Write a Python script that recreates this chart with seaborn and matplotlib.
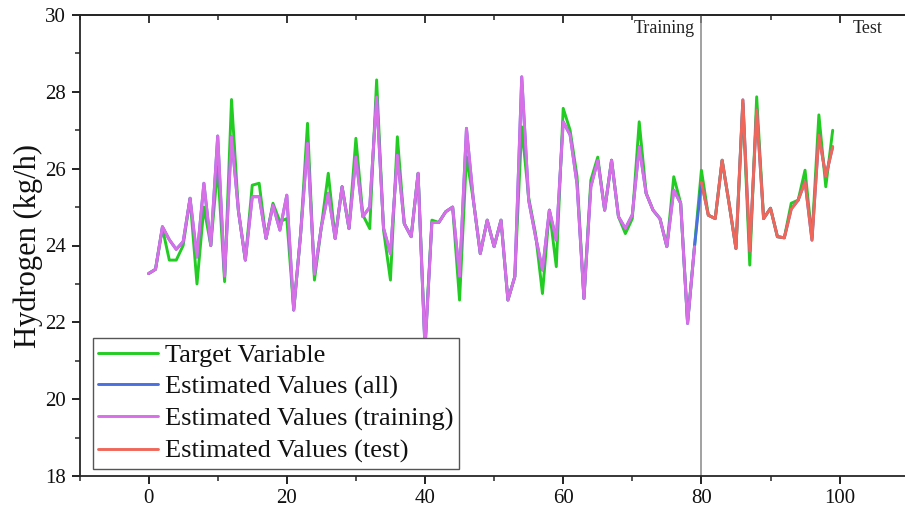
import numpy as np
import pandas as pd
import matplotlib
matplotlib.use("Agg")
import matplotlib.pyplot as plt
import seaborn as sns

# ---- data ----
target = [23.27, 23.38, 24.45, 23.62, 23.62, 24.0, 25.23, 23.0, 25.0, 24.0,
          26.05, 23.06, 27.8, 24.9, 23.62, 25.57, 25.62, 24.18, 25.1, 24.62,
          24.7, 22.32, 24.3, 27.18, 23.1, 24.49, 25.88, 24.18, 25.53, 24.44,
          26.79, 24.8, 24.44, 28.31, 24.4, 23.1, 26.83, 24.57, 24.23, 25.88,
          21.4, 24.66, 24.6, 24.88, 25.0, 22.58, 26.31, 25.18, 23.79, 24.66,
          23.97, 24.66, 22.58, 23.19, 27.09, 25.25, 24.3, 22.75, 24.92, 23.45,
          27.57, 27.0, 25.8, 22.62, 25.7, 26.3, 24.92, 26.22, 24.75, 24.31,
          24.7, 27.22, 25.36, 24.92, 24.7, 23.97, 25.79, 25.1, 22.0, 23.97,
          25.96, 24.79, 24.7, 26.22, 25.1, 23.92, 27.7, 23.49, 27.87, 24.7,
          24.97, 24.23, 24.2, 25.1, 25.18, 25.96, 24.2, 27.4, 25.53, 27.0]
est_train = [23.27, 23.38, 24.49, 24.15, 23.9, 24.1, 25.23, 23.7, 25.62, 24.0,
             26.85, 23.2, 26.83, 24.9, 23.62, 25.27, 25.27, 24.18, 25.05, 24.4,
             25.31, 22.32, 24.3, 26.66, 23.25, 24.49, 25.36, 24.18, 25.53, 24.44,
             26.31, 24.75, 25.0, 27.87, 24.45, 23.79, 26.35, 24.57, 24.23, 25.88,
             21.3, 24.6, 24.6, 24.88, 25.0, 23.2, 27.05, 25.18, 23.79, 24.66,
             23.97, 24.66, 22.58, 23.19, 28.39, 25.18, 24.23, 23.36, 24.92, 24.14,
             27.22, 26.88, 25.6, 22.62, 25.53, 26.22, 24.92, 26.22, 24.75, 24.44,
             24.8, 26.57, 25.36, 24.92, 24.7, 23.97, 25.44, 25.1, 21.97, 23.97]
est_test = [25.65, 24.79, 24.7, 26.22, 25.1, 23.92, 27.79, 23.85, 27.53, 24.7,
            24.97, 24.23, 24.2, 24.95, 25.18, 25.66, 24.14, 26.88, 25.8, 26.57]
est_all = est_train + est_test
split_at = 80
labels = ["Target Variable", "Estimated Values (all)",
          "Estimated Values (training)", "Estimated Values (test)"]
x_all = list(range(len(target)))
x_train = list(range(len(est_train)))
x_test = list(range(split_at, split_at + len(est_test)))

# ---- style ----
sns.set_style("ticks")
plt.rcParams["font.family"] = ["Liberation Serif", "DejaVu Serif"]
plt.rcParams["axes.linewidth"] = 1.3

fig = plt.figure(figsize=(9.05, 5.15), dpi=100)
ax = fig.add_axes([79.5 / 905, 39 / 515, 829.2 / 905, 461 / 515])

c_green = "#22cc22"
c_blue = "#4a6fe0"
c_mag = "#d96fe6"
c_red = "#f0675a"
lw = 2.1

sns.lineplot(x=x_all, y=target, ax=ax, color=c_green, lw=lw, label=labels[0])
sns.lineplot(x=x_all, y=est_all, ax=ax, color=c_blue, lw=lw, label=labels[1])
sns.lineplot(x=x_train, y=est_train, ax=ax, color=c_mag, lw=lw, label=labels[2])
sns.lineplot(x=x_test, y=est_test, ax=ax, color=c_red, lw=lw, label=labels[3])

ax.axvline(split_at, color="#888888", lw=1.1, zorder=1)

ax.set_xlim(-10, 110)
ax.set_ylim(18, 30)
ax.set_xticks(np.arange(0, 101, 20))
ax.set_xticks(np.arange(-10, 111, 20), minor=True)
ax.set_yticks(np.arange(18, 31, 2))
ax.set_yticks(np.arange(19, 30, 2), minor=True)
ax.tick_params(axis="both", which="major", direction="out", length=6, width=1.3,
               labelsize=15, colors="#111111")
ax.tick_params(axis="both", which="minor", direction="out", length=3.5, width=1.1)
ax.tick_params(axis="y", which="both", right=False)
ax.spines["right"].set_visible(False)

sec = ax.secondary_xaxis("top")
sec.set_xticks(np.arange(0, 101, 20))
sec.set_xticks(np.arange(-10, 111, 20), minor=True)
sec.tick_params(axis="x", which="major", direction="in", length=6, width=1.3, labeltop=False)
sec.tick_params(axis="x", which="minor", direction="in", length=3.5, width=1.1)
sec.spines["top"].set_linewidth(1.3)

ax.set_ylabel("Hydrogen (kg/h)", fontsize=22, color="#111111", labelpad=2)
ax.set_xlabel("")

ax.text(79, 29.65, "Training", ha="right", va="center", fontsize=13, color="#222222")
ax.text(106.2, 29.65, "Test", ha="right", va="center", fontsize=13, color="#222222")

leg = ax.legend(loc="lower left", bbox_to_anchor=(13 / 829.2, 7.5 / 461),
                borderaxespad=0, fontsize=19, frameon=True, fancybox=False,
                handlelength=2.3, handletextpad=0.25, labelspacing=0.31,
                borderpad=0.2)
leg.get_frame().set_edgecolor("#555555")
leg.get_frame().set_linewidth(1.0)
leg.get_frame().set_alpha(1)
for t in leg.get_texts():
    t.set_color("#111111")

fig.savefig("out.png", dpi=100)
